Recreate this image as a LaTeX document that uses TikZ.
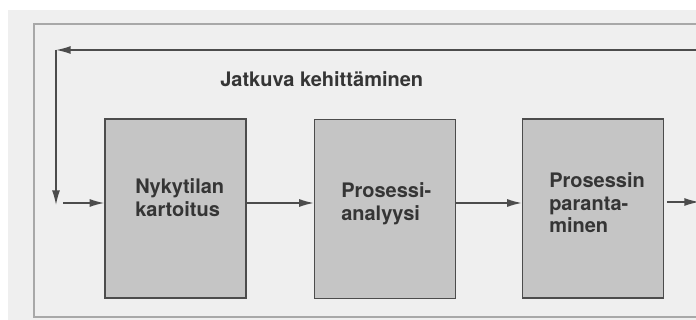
\documentclass[tikz,border=0pt]{standalone}
\usepackage{fontspec}
\setmainfont{TeX Gyre Heros}
\usetikzlibrary{arrows.meta}
\definecolor{pagebg}{HTML}{EFEFEF}
\definecolor{boxfill}{HTML}{C5C5C5}
\definecolor{linec}{HTML}{4C4C4C}
\definecolor{framec}{HTML}{A8A8A8}
\definecolor{txtc}{HTML}{353535}
\begin{document}
\begin{tikzpicture}[x=0.75pt,y=-0.75pt,
  procbox/.style={draw=linec, line width=1pt, fill=boxfill, minimum width=105.75pt, minimum height=134.25pt, inner sep=0pt},
  boxtext/.style={anchor=north west, inner sep=0pt, align=left, font=\fontsize{15}{17}\selectfont\bfseries, text=txtc},
  arr/.style={draw=linec, line width=1.1pt, -{Latex[length=11pt,width=6pt]}},
  framel/.style={draw=framec, line width=0.9pt}]
\useasboundingbox (0,0) rectangle (696,320);
\fill[white] (0,0) rectangle (696,320);
\fill[pagebg] (8,10) rectangle (696,320);
\draw[framel] (696,24) -- (34,24) -- (34,317) -- (696,317);

\node[procbox] (b1) at (175.5,208.5) {};
\node[procbox] (b2) at (385,209) {};
\node[procbox] (b3) at (593,208.5) {};

\node[boxtext] (t1) at (135,178.5) {Nykytilan\\kartoitus};
\node[boxtext] (t2) at (341,182.5) {Prosessi-\\analyysi};
\node[boxtext] (t3) at (549,172.5) {Prosessin\\paranta-\\minen};
\node[anchor=base west, inner sep=0pt, font=\fontsize{15}{17}\selectfont\bfseries, text=txtc] (title) at (220,87) {Jatkuva kehittäminen};

\coordinate (fbR) at (696,50);
\coordinate (fbC) at (56,50);
\coordinate (fbD) at (56,205);
\coordinate (in) at (63,203);
\coordinate (outS) at (667,202);
\coordinate (out) at (699,202);

\draw[arr] (fbR) -- (fbC);
\draw[arr] (fbC) -- (fbD);
\draw[arr] (in) -- (b1.west |- in);
\draw[arr] (b1.east |- in) -- (b2.west |- in);
\draw[arr] (b2.east |- in) -- (b3.west |- in);
\draw[arr] (outS) -- (out);
\end{tikzpicture}
\end{document}
